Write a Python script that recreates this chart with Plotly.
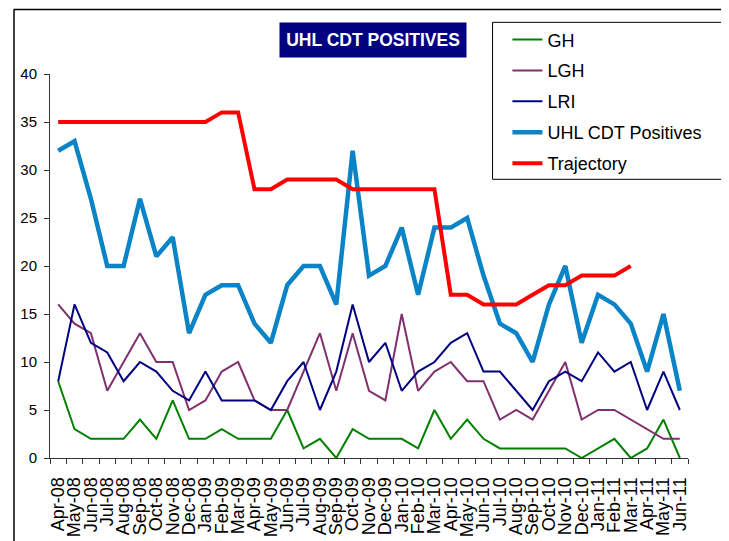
import plotly.graph_objects as go

months = ["Apr-08", "May-08", "Jun-08", "Jul-08", "Aug-08", "Sep-08", "Oct-08", "Nov-08", "Dec-08",
          "Jan-09", "Feb-09", "Mar-09", "Apr-09", "May-09", "Jun-09", "Jul-09", "Aug-09", "Sep-09",
          "Oct-09", "Nov-09", "Dec-09", "Jan-10", "Feb-10", "Mar-10", "Apr-10", "May-10", "Jun-10",
          "Jul-10", "Aug-10", "Sep-10", "Oct-10", "Nov-10", "Dec-10", "Jan-11", "Feb-11", "Mar-11",
          "Apr-11", "May-11", "Jun-11"]

gh = [8, 3, 2, 2, 2, 4, 2, 6, 2, 2, 3, 2, 2, 2, 5, 1, 2, 0, 3, 2, 2, 2, 1, 5, 2, 4,
      2, 1, 1, 1, 1, 1, 0, 1, 2, 0, 1, 4, 0]
lgh = [16, 14, 13, 7, 10, 13, 10, 10, 5, 6, 9, 10, 6, 5, 5, 9, 13, 7, 13, 7, 6, 15, 7, 9, 10, 8,
       8, 4, 5, 4, 7, 10, 4, 5, 5, 4, 3, 2, 2]
lri = [8, 16, 12, 11, 8, 10, 9, 7, 6, 9, 6, 6, 6, 5, 8, 10, 5, 9, 16, 10, 12, 7, 9, 10, 12, 13,
       9, 9, 7, 5, 8, 9, 8, 11, 9, 10, 5, 9, 5]
uhl = [32, 33, 27, 20, 20, 27, 21, 23, 13, 17, 18, 18, 14, 12, 18, 20, 20, 16, 32, 19, 20, 24, 17, 24, 24, 25,
       19, 14, 13, 10, 16, 20, 12, 17, 16, 14, 9, 15, 7]
trajectory = [35, 35, 35, 35, 35, 35, 35, 35, 35, 35, 36, 36, 28, 28, 29, 29, 29, 29, 28, 28, 28, 28, 28, 28,
              17, 17, 16, 16, 16, 17, 18, 18, 19, 19, 19, 20]

font = "Arial, Liberation Sans, sans-serif"

fig = go.Figure()
series = [("GH", gh, "#008000", 2), ("LGH", lgh, "#80306F", 2), ("LRI", lri, "#000080", 2),
          ("UHL CDT Positives", uhl, "#0A84C6", 4.5), ("Trajectory", trajectory, "#FF0000", 4)]
for name, vals, col, w in series:
    fig.add_trace(go.Scatter(x=months[:len(vals)], y=vals, mode="lines", name=name, legendgroup=name,
                             line=dict(color=col, width=w)))

# screen pixel -> paper (page is shown with an 8px body margin)
def px(v):
    return (v - 45) / 643

def py(v):
    return (460.5 - v) / 386.5

fig.update_layout(
    width=729, height=541,
    margin=dict(l=37, r=49, t=66, b=89),
    paper_bgcolor="white", plot_bgcolor="white",
    font=dict(family=font, color="black"),
    showlegend=True,
    legend=dict(x=px(506), y=py(21), xanchor="left", yanchor="top", bgcolor="rgba(0,0,0,0)",
                borderwidth=0, font=dict(size=18, family=font), tracegroupgap=4.5),
    xaxis=dict(type="category", range=[-0.5, 38.5], showgrid=False, showline=True, linecolor="#333",
               ticks="outside", ticklen=5, tickcolor="#333", tickson="boundaries", tickangle=-90,
               tickmode="linear", dtick=1,
               tickfont=dict(size=18, family=font), ticklabelstandoff=11),
    yaxis=dict(range=[0, 40], dtick=5, showgrid=False, showline=True, linecolor="#333", zeroline=False,
               ticks="outside", ticklen=5, tickcolor="#333", tickfont=dict(size=15, family=font),
               ticklabelstandoff=4),
    shapes=[
        dict(type="line", xref="paper", yref="paper", x0=px(8.5), x1=px(740), y0=py(9), y1=py(9),
             line=dict(color="black", width=1.5)),
        dict(type="line", xref="paper", yref="paper", x0=px(8.7), x1=px(8.7), y0=py(9), y1=py(560),
             line=dict(color="black", width=1.5)),
        dict(type="rect", xref="paper", yref="paper", x0=px(491), x1=px(723), y0=py(180), y1=py(22),
             line=dict(color="black", width=1), fillcolor="rgba(0,0,0,0)"),
        dict(type="line", xref="paper", yref="paper", x0=px(724.5), x1=px(724.5), y0=py(181), y1=py(24),
             line=dict(color="#808080", width=2)),
    ],
    annotations=[dict(text="<b>UHL CDT POSITIVES</b>", xref="paper", yref="paper", x=px(371), y=py(40),
                      xanchor="center", yanchor="middle", showarrow=False, width=184, height=32,
                      bgcolor="#000080", font=dict(color="white", size=17.5, family=font))],
)

fig.write_html("out.html")
